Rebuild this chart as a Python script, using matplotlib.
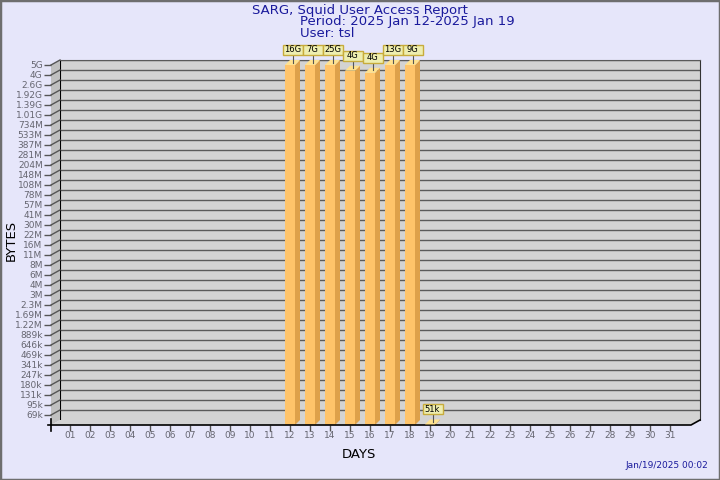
import numpy as np
import matplotlib
matplotlib.use('Agg')
import matplotlib.pyplot as plt
from matplotlib.patches import Polygon, Rectangle
from matplotlib.lines import Line2D

# dados
dias = list(range(1, 32))
rotulos_dias = [f'{d:02d}' for d in dias]
dias_com_dados = [12, 13, 14, 15, 16, 17, 18, 19]
bytes_dia = [16e9, 7e9, 25e9, 4.4e9, 4.2e9, 13e9, 9e9, 51e3]
rotulos_barras = ['16G', '7G', '25G', '4G', '4G', '13G', '9G', '51k']

rotulos_y = ['69k', '95k', '131k', '180k', '247k', '341k', '469k', '646k', '889k',
             '1.22M', '1.69M', '2.3M', '3M', '4M', '6M', '8M', '11M', '16M', '22M',
             '30M', '41M', '57M', '78M', '108M', '148M', '204M', '281M', '387M',
             '533M', '734M', '1.01G', '1.39G', '1.92G', '2.6G', '4G', '5G']
BASE = 50e3

W, H = 720, 480
FUNDO = '#e6e6fa'
AZUL = '#1a1a9c'
CINZA_TXT = '#666670'


def valor(rot):
    mult = {'k': 1e3, 'M': 1e6, 'G': 1e9}
    return float(rot[:-1]) * mult[rot[-1]]


valores_y = [valor(r) for r in rotulos_y]
niveis_log = np.log([BASE] + valores_y)
indices = np.arange(len(niveis_log))


def fwd(v):
    v = np.clip(np.asarray(v, dtype=float), 1.0, None)
    return np.interp(np.log(v), niveis_log, indices)


def inv(i):
    return np.exp(np.interp(np.asarray(i, dtype=float), indices, niveis_log))


def caixa_px(x0, y_topo, w, h):
    """posicao em pixels da imagem (origem em cima) -> fracao da figura"""
    return [x0 / W, 1 - (y_topo + h) / H, w / W, h / H]


def px(x, y):
    """pixel da imagem -> coordenada de display"""
    return (x, H - y)


fig = plt.figure(figsize=(7.2, 4.8), dpi=100, facecolor=FUNDO)

# parede do fundo
ax_fundo = fig.add_axes(caixa_px(60, 60, 640, 360), zorder=0)
ax_fundo.set_facecolor('#d3d3d3')
ax_fundo.set_yscale('function', functions=(fwd, inv))
ax_fundo.set_ylim(BASE, valores_y[-1])
ax_fundo.set_xlim(0.05, 32.05)
ax_fundo.set_yticks(valores_y)
ax_fundo.set_xticks([])
ax_fundo.yaxis.set_minor_locator(matplotlib.ticker.NullLocator())
ax_fundo.grid(axis='y', color='#5a5a5a', lw=1)
ax_fundo.tick_params(left=False, labelleft=False)
ax_fundo.spines['left'].set_color('black')
ax_fundo.spines['top'].set_color('#5a5a5a')
ax_fundo.spines['right'].set_color('#333333')
ax_fundo.spines['bottom'].set_visible(False)

# plano da frente (eixos e barras)
ax = fig.add_axes(caixa_px(51, 65, 640, 360), zorder=2)
ax.set_facecolor('none')
ax.set_yscale('function', functions=(fwd, inv))
ax.set_ylim(BASE, valores_y[-1])
ax.set_xlim(0.05, 32.05)
ax.set_yticks(valores_y)
ax.set_yticklabels(rotulos_y)
ax.yaxis.set_minor_locator(matplotlib.ticker.NullLocator())
ax.set_xticks(dias)
ax.set_xticklabels(rotulos_dias)
for s in ax.spines.values():
    s.set_visible(False)
ax.tick_params(axis='y', length=5, width=1, color='#555555', labelsize=6.5,
               labelcolor=CINZA_TXT, pad=1)
ax.tick_params(axis='x', length=4, width=1, color='#555555', labelsize=6.5,
               labelcolor=CINZA_TXT, pad=0.5)

fig.text(359 / W, 1 - 455 / H, 'DAYS', ha='center', va='center', fontsize=9.5)
fig.text(11 / W, 1 - 240 / H, 'BYTES', ha='center', va='center', fontsize=9.5,
         rotation=90)

# parede lateral e chao
fig.add_artist(Polygon([px(51, 65), px(60, 60), px(60, 420), px(51, 425)],
                       closed=True, facecolor='#c0c0c0', edgecolor='none',
                       transform=None, zorder=0.5))
fig.add_artist(Polygon([px(51, 425), px(60, 420), px(700, 420), px(691, 425)],
                       closed=True, facecolor='#d3d3d3', edgecolor='none',
                       transform=None, zorder=0.5))

# tracos diagonais dos ticks do eixo y
for v in valores_y:
    _, yd = ax.transData.transform((1, v))
    fig.add_artist(Line2D([51, 60], [yd, yd + 5], color='#555555', lw=1,
                          transform=None, zorder=1))

# linhas pretas da base
fig.add_artist(Line2D([px(48, 425)[0], px(691, 425)[0], px(700, 420)[0]],
                      [px(48, 425)[1], px(691, 425)[1], px(700, 420)[1]],
                      color='black', lw=1.2, transform=None, zorder=3))
fig.add_artist(Line2D([51, 51], [H - 419, H - 431], color='black', lw=1.2,
                      transform=None, zorder=3))

# barras 3D
topo = [min(v, valores_y[-1]) for v in bytes_dia]
alturas = [t - BASE for t in topo]
ax.bar(dias_com_dados, alturas, bottom=BASE, width=0.5, color='#ffc46a',
       edgecolor='none', zorder=3)

dx, dy = 5, 5
for d, t, rot in zip(dias_com_dados, topo, rotulos_barras):
    (xe, yb), = ax.transData.transform([(d - 0.25, BASE)])
    (xd, yt), = ax.transData.transform([(d + 0.25, t)])
    lado = [(xd, yb), (xd, yt), (xd + dx, yt + dy), (xd + dx, yb + dy)]
    tampa = [(xe, yt), (xd, yt), (xd + dx, yt + dy), (xe + dx, yt + dy)]
    fig.add_artist(Polygon(lado, closed=True, facecolor='#dea14a',
                           edgecolor='none', transform=None, zorder=2.6))
    fig.add_artist(Polygon(tampa, closed=True, facecolor='#ffe28f',
                           edgecolor='none', transform=None, zorder=3.5))
    # rotulo do valor
    cx = (xe + xd) / 2 + dx / 2
    yc = yt + 10
    fig.add_artist(Line2D([cx, cx], [yt + dy / 2, yc], color='#555555', lw=0.8,
                          transform=None, zorder=3.6))
    fig.add_artist(Rectangle((cx - 10, yc), 20, 10, facecolor='#eeeeb0',
                             edgecolor='#c8ac3c', lw=1, transform=None, zorder=4))
    fig.text(cx, yc + 5, rot, transform=None, ha='center', va='center',
             fontsize=6, color='black', zorder=5)

# titulos
fig.text(360 / W, 1 - 10.5 / H, 'SARG, Squid User Access Report', ha='center',
         va='center', fontsize=9.5, color=AZUL)
fig.text(300 / W, 1 - 22 / H, 'Period: 2025 Jan 12-2025 Jan 19', ha='left',
         va='center', fontsize=9.5, color=AZUL)
fig.text(300 / W, 1 - 33.5 / H, 'User: tsl', ha='left', va='center',
         fontsize=9.5, color=AZUL)
fig.text(708 / W, 1 - 466 / H, 'Jan/19/2025 00:02', ha='right', va='center',
         fontsize=6.5, color=AZUL)

# moldura
fig.add_artist(Rectangle((0, 0), 1, 1, transform=fig.transFigure, fill=False,
                         edgecolor='#6e6e6e', lw=2.5, zorder=10))

fig.savefig('out.png', dpi=100, facecolor=FUNDO)
